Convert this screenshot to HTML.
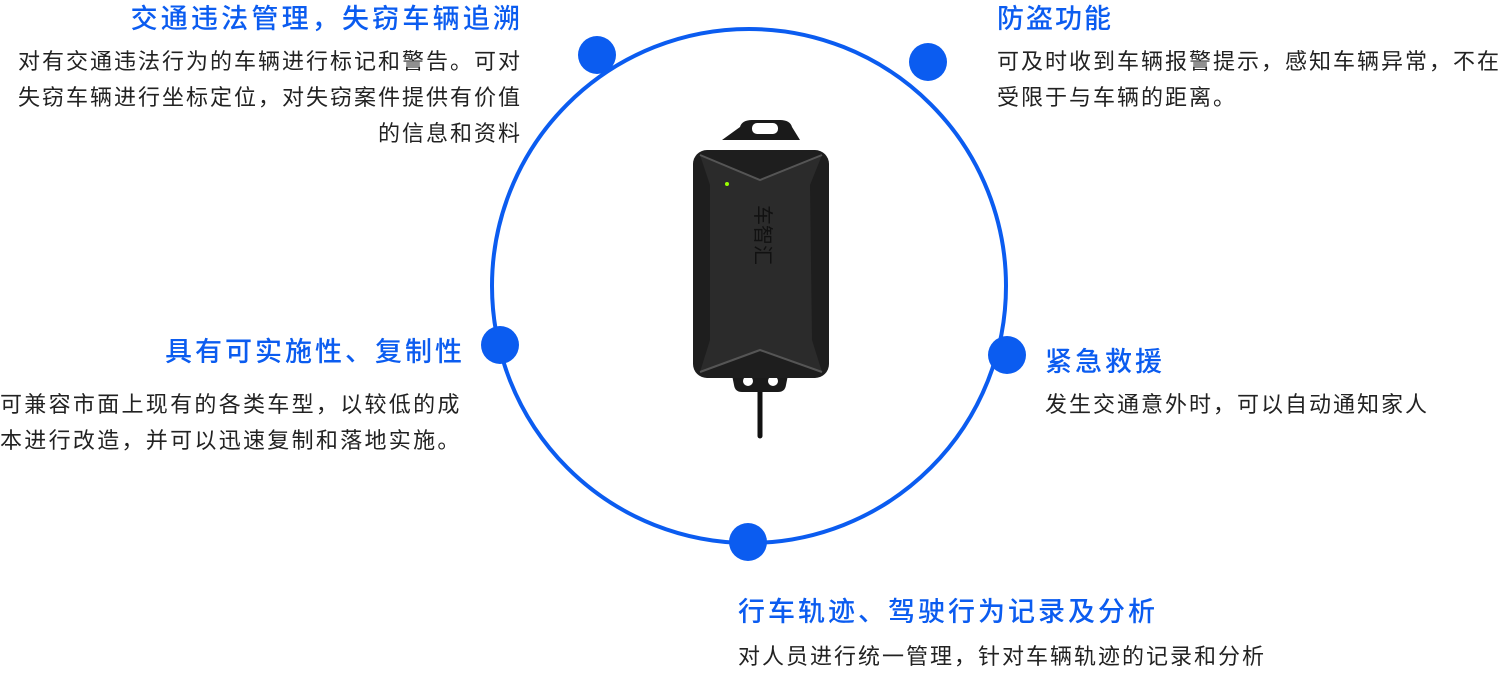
<!DOCTYPE html>
<html><head><meta charset="utf-8"><style>
body{margin:0;width:1500px;height:667px;background:#fff;position:relative;overflow:hidden;font-family:"Liberation Sans","Noto Sans CJK SC",sans-serif}
.t{position:absolute;color:#0b5cf0;font-size:27px;white-space:nowrap;line-height:34px;font-family:"Noto Sans CJK SC",sans-serif;font-weight:500}
.b{position:absolute;color:#222;font-size:22px;white-space:nowrap;line-height:36px;font-family:"Noto Sans CJK SC",sans-serif}
.r{text-align:right}
</style></head><body>
<svg width="1500" height="667" style="position:absolute;left:0;top:0">
<circle cx="749" cy="286" r="257" fill="none" stroke="#0b5cf0" stroke-width="4"/>
<g fill="#0b5cf0">
<circle cx="597" cy="55" r="19"/><circle cx="928" cy="62" r="19"/><circle cx="500" cy="345" r="19"/><circle cx="1007" cy="355" r="19"/><circle cx="748" cy="542" r="19"/>
</g>
<path d="M760 370 L760 436" stroke="#111" stroke-width="5" stroke-linecap="round"/>
<path d="M740 127 Q742 120 752 120 L780 120 Q790 120 792 127 L800 140 L722 140 Z" fill="#1a1a1a"/>
<rect x="752" y="123" width="26" height="11" rx="5" fill="#fff"/>
<path d="M730 365 L790 365 L786 385 Q785 392 778 392 L742 392 Q735 392 734 385 Z" fill="#1a1a1a"/>
<circle cx="748" cy="381" r="5" fill="#fff"/><circle cx="773" cy="381" r="5" fill="#fff"/>
<rect x="693" y="150" width="136" height="228" rx="14" fill="#1e1e1e"/>
<path d="M700 155 L760 180 L822 155 L810 185 L812 340 L822 372 L760 350 L700 372 L710 340 L710 185 Z" fill="#2b2b2b"/>
<path d="M700 155 L760 180 L822 155" fill="none" stroke="#555" stroke-width="2"/>
<path d="M700 372 L760 350 L822 372" fill="none" stroke="#555" stroke-width="2"/>
<circle cx="727" cy="184" r="2" fill="#9f0"/>
<text x="0" y="0" transform="translate(756,205) rotate(90)" font-size="20" fill="#111" font-family="Noto Sans CJK SC">车智汇</text>
</svg>
<div class="t r" style="right:980px;top:0px;letter-spacing:3.2px;margin-right:-3.2px">交通违法管理，失窃车辆追溯</div>
<div class="b r" style="right:980px;top:42px;letter-spacing:2px;margin-right:-2px">对有交通违法行为的车辆进行标记和警告。可对<br>失窃车辆进行坐标定位，对失窃案件提供有价值<br>的信息和资料</div>
<div class="t" style="left:997px;top:0px;letter-spacing:2px">防盗功能</div>
<div class="b" style="left:997px;top:42px;letter-spacing:2px">可及时收到车辆报警提示，感知车辆异常，不在<br>受限于与车辆的距离。</div>
<div class="t r" style="right:1038px;top:333px;letter-spacing:3px;margin-right:-3px">具有可实施性、复制性</div>
<div class="b" style="left:0px;top:385px;letter-spacing:2.3px">可兼容市面上现有的各类车型，以较低的成<br>本进行改造，并可以迅速复制和落地实施。</div>
<div class="t" style="left:1045px;top:343px;letter-spacing:3px">紧急救援</div>
<div class="b" style="left:1045px;top:385px;letter-spacing:2px">发生交通意外时，可以自动通知家人</div>
<div class="t" style="left:738px;top:593px;letter-spacing:3px">行车轨迹、驾驶行为记录及分析</div>
<div class="b" style="left:738px;top:637px;letter-spacing:2px">对人员进行统一管理，针对车辆轨迹的记录和分析</div>
</body></html>
